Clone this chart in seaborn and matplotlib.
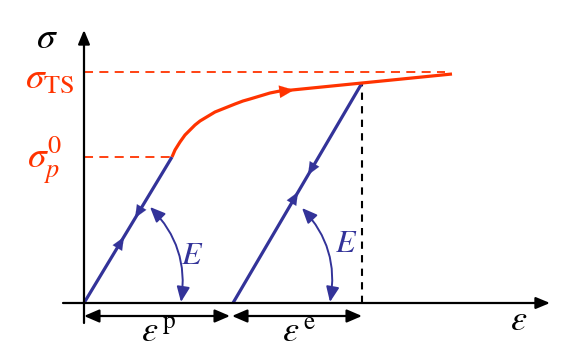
import numpy as np
import pandas as pd
import matplotlib
matplotlib.use("Agg")
import matplotlib.pyplot as plt
import seaborn as sns
from matplotlib.patches import FancyArrowPatch

# ---- data (schematic units, origin at axes crossing) ----
loading_strain = [0, 88]
loading_stress = [0, 146]
hardening_strain = [88, 91, 96, 101, 106, 111, 116, 121, 131, 141, 151, 159, 166, 176,
                    186, 196, 208, 278, 368]
hardening_stress = [146, 153, 161, 168, 173, 178, 182, 185, 191, 195, 199, 202, 204, 207,
                    210, 212, 213, 220, 229]
unloading_strain = [278, 149]
unloading_stress = [220, 0]
sigma_ts = 231
sigma_p0 = 146
eps_p_end = 146
eps_e_end = 278

RED = "#FF3300"
BLUE = "#333399"

sns.set_style("white")
plt.rcParams["mathtext.fontset"] = "stix"
plt.rcParams["font.family"] = ["Liberation Serif", "DejaVu Serif"]

fig = plt.figure(figsize=(5.68, 3.59), dpi=100)
ax = fig.add_axes([0, 0, 1, 1])
ax.set_xlim(-84, 484)
ax.set_ylim(-56, 303)
ax.axis("off")

# axes
ax.annotate("", xy=(466, 0), xytext=(-21, 0),
            arrowprops=dict(arrowstyle="-|>,head_length=0.6,head_width=0.25",
                            lw=1.6, color="black", mutation_scale=14, shrinkA=0, shrinkB=0))
ax.annotate("", xy=(0, 273), xytext=(0, -20),
            arrowprops=dict(arrowstyle="-|>,head_length=0.6,head_width=0.25",
                            lw=1.6, color="black", mutation_scale=14, shrinkA=0, shrinkB=0))

# dashed guide lines
sns.lineplot(x=[0, 361], y=[sigma_ts, sigma_ts], ax=ax, color=RED, lw=1.3,
             linestyle=(0, (5, 3.5)), sort=False, estimator=None)
sns.lineplot(x=[0, loading_strain[1]], y=[sigma_p0, sigma_p0], ax=ax, color=RED, lw=1.3,
             linestyle=(0, (5, 3.5)), sort=False, estimator=None)
sns.lineplot(x=[eps_e_end, eps_e_end], y=[0, unloading_stress[0]], ax=ax, color="black",
             lw=1.5, linestyle=(0, (3.5, 3)), sort=False, estimator=None)

# curves
sns.lineplot(x=loading_strain, y=loading_stress, ax=ax, color=BLUE, lw=2.3,
             sort=False, estimator=None)
sns.lineplot(x=unloading_strain, y=unloading_stress, ax=ax, color=BLUE, lw=2.3,
             sort=False, estimator=None)
line = sns.lineplot(x=hardening_strain, y=hardening_stress, ax=ax, color=RED, lw=2.3,
                    sort=False, estimator=None)
for ln in ax.get_lines():
    ln.set_solid_joinstyle("round")
    ln.set_solid_capstyle("butt")


def head(tip, direction, color, ms=14):
    d = np.array(direction, float)
    d = d / np.hypot(*d)
    start = np.array(tip) - d * 6
    ax.annotate("", xy=tip, xytext=start,
                arrowprops=dict(arrowstyle="-|>,head_length=0.65,head_width=0.28",
                                color=color, lw=0.1, mutation_scale=ms,
                                shrinkA=0, shrinkB=0))


head((40, 66), (88, 146), BLUE)
head((51, 85), (-88, -146), BLUE)
head((224, 128), (-129, -220), BLUE)
head((214, 111), (129, 220), BLUE)
head((210, 213), (1, 0.12), RED, ms=16)

# E arcs
for a, b in [((66, 96), (97, 1)), ((218, 95), (246, 1))]:
    arc = FancyArrowPatch(a, b, connectionstyle="arc3,rad=-0.25",
                          arrowstyle="<|-|>,head_length=0.65,head_width=0.28",
                          mutation_scale=14, color=BLUE, lw=1.4, shrinkA=0, shrinkB=0)
    ax.add_patch(arc)

# strain dimension arrows
ax.annotate("", xy=(eps_p_end, -13), xytext=(0, -13),
            arrowprops=dict(arrowstyle="<|-|>,head_length=0.65,head_width=0.28",
                            lw=1.6, color="black", mutation_scale=14, shrinkA=0, shrinkB=0))
ax.annotate("", xy=(eps_e_end, -13), xytext=(unloading_strain[1] - 1, -13),
            arrowprops=dict(arrowstyle="<|-|>,head_length=0.65,head_width=0.28",
                            lw=1.6, color="black", mutation_scale=14, shrinkA=0, shrinkB=0))

# labels
ax.text(-37, 264, r"$\sigma$", fontsize=27, ha="center", va="center", color="black")
ax.text(-34, 224, r"$\sigma_{\mathrm{TS}}$", fontsize=27, ha="center", va="center", color=RED)
ax.text(-39, 143, r"$\sigma_{p}^{\mathit{0}}$", fontsize=27, ha="center", va="center", color=RED)
ax.text(108, 46, r"$E$", fontsize=23, ha="center", va="center", color=BLUE)
ax.text(262, 58, r"$E$", fontsize=23, ha="center", va="center", color=BLUE)
ax.text(75, -30, r"$\varepsilon^{\,\mathrm{p}}$", fontsize=26, ha="center", va="center", color="black")
ax.text(215, -30, r"$\varepsilon^{\,\mathrm{e}}$", fontsize=26, ha="center", va="center", color="black")
ax.text(435, -19, r"$\varepsilon$", fontsize=26, ha="center", va="center", color="black")

fig.savefig("out.png", dpi=100)
